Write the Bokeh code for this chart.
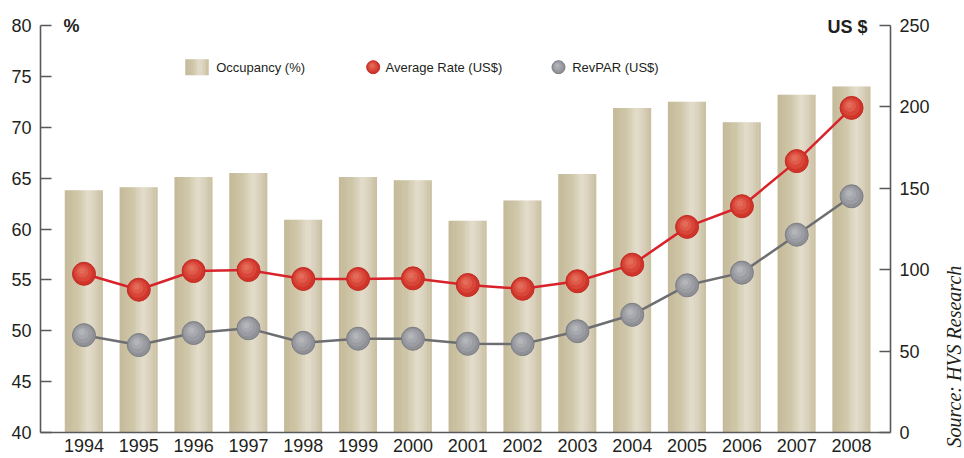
import numpy as np
from bokeh.plotting import figure
from bokeh.layouts import row
from bokeh.models import Range1d, LinearAxis, FixedTicker, Label, Title
from bokeh.embed import file_html
from bokeh.resources import INLINE

# ---- data -------------------------------------------------------------
years = ["1994", "1995", "1996", "1997", "1998", "1999", "2000", "2001",
         "2002", "2003", "2004", "2005", "2006", "2007", "2008"]
occupancy = [63.8, 64.1, 65.1, 65.5, 60.9, 65.1, 64.8, 60.8,
             62.8, 65.4, 71.9, 72.5, 70.5, 73.2, 74.0]          # %
avg_rate = [97.5, 87.7, 99.2, 99.8, 94.3, 94.3, 94.7, 90.6,
            88.3, 92.9, 103.1, 126.3, 139.0, 166.7, 199.4]      # US$
revpar = [59.8, 53.7, 61.1, 64.0, 55.1, 57.6, 57.6, 54.5,
          54.3, 62.2, 72.3, 90.4, 98.2, 121.5, 145.1]           # US$
occ_ticks = [40, 45, 50, 55, 60, 65, 70, 75, 80]
usd_ticks = [0, 50, 100, 150, 200, 250]

# ---- layout -----------------------------------------------------------
W, H = 940, 458          # main chart; a narrow strip to its right holds the source note
SIDE_W = 964 - W
BL, BR, BT, BB = 40, 50, 5, 26
AXIS_TOP = 25            # canvas y of the top tick (80 % / 250 US$)
FRAME_W = W - BL - BR
FRAME_H = H - BT - BB
X0, X1 = -0.793, 14.71
OCC0, OCC1 = occ_ticks[0], occ_ticks[-1]
USD0, USD1 = usd_ticks[0], usd_ticks[-1]

# value ranges reach a little above the top tick so the captions fit in the frame
occ_ppu = (H - BB - AXIS_TOP) / (OCC1 - OCC0)
usd_ppu = (H - BB - AXIS_TOP) / (USD1 - USD0)
OCC_END = OCC1 + (AXIS_TOP - BT) / occ_ppu
USD_END = USD1 + (AXIS_TOP - BT) / usd_ppu

TEXT = "#231f20"
AXIS = "#58595b"
FONT = "Liberation Sans"

p = figure(width=W, height=H, x_range=Range1d(X0, X1), y_range=Range1d(OCC0, OCC_END),
           min_border_left=BL, min_border_right=BR, min_border_top=BT, min_border_bottom=BB,
           toolbar_location=None, output_backend="svg", outline_line_color=None,
           background_fill_color="white", border_fill_color="white")
p.extra_y_ranges = {"usd": Range1d(USD0, USD_END), "py": Range1d(0, FRAME_H)}
p.extra_x_ranges = {"px": Range1d(0, FRAME_W)}
p.xgrid.visible = False
p.ygrid.visible = False

xi = np.arange(len(years), dtype=float)
occ = np.array(occupancy)
rate = np.array(avg_rate)
rev = np.array(revpar)

# ---- bars: vertical strips give the satin shading ---------------------
BAR_W = 0.69
stops = [(0.0, (196, 186, 153)), (0.35, (207, 198, 168)), (0.62, (227, 221, 204)),
         (0.8, (217, 209, 188)), (1.0, (199, 189, 157))]


def shade(t):
    for (t0, c0), (t1, c1) in zip(stops[:-1], stops[1:]):
        if t <= t1:
            f = (t - t0) / (t1 - t0)
            return "#%02x%02x%02x" % tuple(int(round(a + (b - a) * f)) for a, b in zip(c0, c1))
    return "#%02x%02x%02x" % stops[-1][1]


N = 16
sw = BAR_W / N
for i in range(N):
    t = (i + 0.5) / N
    off = -BAR_W / 2 + (i + 0.5) * sw
    w = sw * (1.25 if i < N - 1 else 1.0)
    p.vbar(x=xi + off, top=occ, bottom=OCC0, width=w,
           fill_color=shade(t), line_color=None)

# ---- lines & shaded markers -------------------------------------------
px_x = FRAME_W / (X1 - X0)          # pixels per x unit


def ball(xs, ys, yname, layers, edge):
    base = layers[0]
    p.scatter(xs, ys, y_range_name=yname, size=base[0], fill_color=base[1],
              line_color=edge, line_width=1)
    for size, col, dx, dy in layers[1:]:
        p.scatter(xs + dx / px_x, ys + dy / usd_ppu, y_range_name=yname,
                  size=size, fill_color=col, line_color=None)


p.line(xi, rev, y_range_name="usd", line_color="#6d6e71", line_width=2.5)
p.line(xi, rate, y_range_name="usd", line_color="#d9232a", line_width=2.5)

red_layers = [(23, "#cf3529"), (18, "#d8463a", -0.8, 1.0), (12, "#df5a49", -1.5, 2.0),
              (6, "#e36b59", -2.0, 2.8)]
grey_layers = [(23, "#8f9197"), (18, "#9b9da3", -0.8, 1.0), (12, "#a7a9ae", -1.5, 2.0),
               (6, "#b3b5b9", -2.0, 2.8)]
ball(xi, rev, "usd", grey_layers, "#7b7d83")
ball(xi, rate, "usd", red_layers, "#c22a26")

# ---- axes ---------------------------------------------------------------
p.yaxis[0].ticker = FixedTicker(ticks=occ_ticks)
p.yaxis[0].bounds = (OCC0, OCC1)

right = LinearAxis(y_range_name="usd", ticker=FixedTicker(ticks=usd_ticks),
                   bounds=(USD0, USD1))
p.add_layout(right, "right")

for ax in (p.yaxis[0], right):
    ax.major_tick_in = 11
    ax.major_tick_out = 0
    ax.minor_tick_line_color = None
    ax.axis_line_color = AXIS
    ax.axis_line_width = 1.6
    ax.major_tick_line_color = AXIS
    ax.major_tick_line_width = 1.6
    ax.major_label_text_font = FONT
    ax.major_label_text_font_size = "18px"
    ax.major_label_text_color = TEXT
    ax.major_label_standoff = 9

xa = p.xaxis[0]
xa.ticker = FixedTicker(ticks=list(range(len(years))))
xa.major_label_overrides = {i: y for i, y in enumerate(years)}
xa.major_tick_in = 0
xa.major_tick_out = 0
xa.minor_tick_line_color = None
xa.axis_line_color = AXIS
xa.axis_line_width = 1.6
xa.major_label_text_font = FONT
xa.major_label_text_font_size = "18px"
xa.major_label_text_color = TEXT
xa.major_label_standoff = 6

# ---- legend (frame pixel coordinates) ------------------------------------
LY = FRAME_H - (66.7 - BT)
sw_l, sw_r = 145, 168
M = 8
for i in range(M):
    t = (i + 0.5) / M
    p.vbar(x=[sw_l + (i + 0.5) * (sw_r - sw_l) / M], top=[LY + 8], bottom=[LY - 8],
           width=(sw_r - sw_l) / M * 1.2, x_range_name="px", y_range_name="py",
           fill_color=shade(t), line_color=None)


def legend_ball(cx, layers, edge):
    base = layers[0]
    k = 13 / base[0]
    p.scatter([cx], [LY], x_range_name="px", y_range_name="py", size=13,
              fill_color=base[1], line_color=edge, line_width=1)
    for size, col, dx, dy in layers[1:]:
        p.scatter([cx + dx * k], [LY + dy * k], x_range_name="px", y_range_name="py",
                  size=size * k, fill_color=col, line_color=None)


legend_ball(332.7, red_layers, "#c22a26")
legend_ball(518, grey_layers, "#7b7d83")

for x, txt in ((175.7, "Occupancy (%)"), (345, "Average Rate (US$)"), (531.7, "RevPAR (US$)")):
    p.add_layout(Label(x=x, y=LY, x_range_name="px", y_range_name="py", text=txt,
                       text_font=FONT, text_font_size="13px", text_color=TEXT,
                       text_baseline="middle", text_align="left"))

# ---- unit captions --------------------------------------------------------
p.add_layout(Label(x=63, y=25, x_units="canvas", y_units="canvas", text="%",
                   text_font=FONT, text_font_size="18px", text_font_style="bold",
                   text_color=TEXT, text_baseline="middle", text_align="left"))
p.add_layout(Label(x=867, y=26, x_units="canvas", y_units="canvas",
                   text="US $", text_font=FONT, text_font_size="18px",
                   text_font_style="bold", text_color=TEXT, text_baseline="middle",
                   text_align="right"))

# ---- source note strip (vertical title, reads bottom to top) ---------------
side = figure(width=SIDE_W, height=H, x_range=Range1d(0, 1), y_range=Range1d(0, 1),
              min_border=0, min_border_left=0, min_border_right=0, min_border_top=0,
              min_border_bottom=0, toolbar_location=None, output_backend="svg",
              outline_line_color=None, x_axis_location=None, y_axis_location=None,
              background_fill_color="white", border_fill_color="white")
side.xgrid.visible = False
side.ygrid.visible = False
side.add_layout(Title(text="Source: HVS Research", align="left", offset=-15, standoff=0,
                      text_font="Liberation Serif", text_font_size="20px",
                      text_font_style="italic", text_color=TEXT), "left")

open("out.html", "w").write(file_html(row(p, side, spacing=0), INLINE))
